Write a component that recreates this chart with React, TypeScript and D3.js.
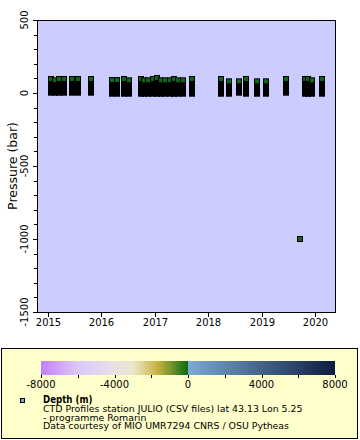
import * as d3 from "d3";

// CTD casts at station JULIO: date, top of profile (max pressure) and surface end
const castDates = [
  "2015-01-23", "2015-02-21", "2015-03-21", "2015-04-20", "2015-06-14", "2015-07-25",
  "2015-10-22", "2016-03-17", "2016-04-18", "2016-06-07", "2016-07-09", "2016-09-27",
  "2016-10-22", "2016-11-18", "2016-12-18", "2017-01-19", "2017-02-15", "2017-03-15",
  "2017-04-14", "2017-05-15", "2017-06-11", "2017-07-11", "2017-09-13", "2018-03-29",
  "2018-05-23", "2018-07-30", "2018-09-14", "2018-11-30", "2019-01-31", "2019-06-16",
  "2019-09-18", "2019-10-24", "2019-11-17", "2019-12-11", "2020-02-15",
];
const castMaxP = [
  96, 87, 96, 96, 96, 96,
  96, 89, 89, 96, 87, 96,
  87, 87, 96, 103, 87, 87,
  87, 96, 87, 87, 96, 96,
  80, 80, 96, 80, 80, 96,
  -1000, 96, 96, 87, 96,
];
const castMinP = [
  2, 2, 2, 2, 2, 2,
  2, -5, -5, -5, -5, -5,
  -5, -5, -5, -5, -5, -5,
  -5, -5, -5, -5, -5, -5,
  -5, 2, -5, -5, -5, 2,
  -1000, -5, -5, -5, -5,
];

const yearTicks = ["2015", "2016", "2017", "2018", "2019", "2020"];
const depthStops = [-8000, -6000, -4000, -3000, -1700, -700, 0];
const depthColors = ["#c080ff", "#dcc8ff", "#e8e0e4", "#ebe8cc", "#c9b444", "#5c8a28", "#0a6a12"];
const seaStops = [0, 8000];
const seaColors = ["#7aaad4", "#0e1c3e"];
const legendLines = [
  "CTD Profiles station JULIO (CSV files) lat 43.13 Lon 5.25",
  "- programme Romarin",
  "Data courtesy of MIO UMR7294 CNRS / OSU Pytheas",
];

const W = 360;
const H = 440;
const PLOT = { left: 37, right: 335, top: 20, bottom: 312 };
const FONT = "'DejaVu Sans', sans-serif";
const COND = "'DejaVu Sans Condensed', 'DejaVu Sans', sans-serif";
const MARK = 3;
const MARK_FILL = "#0f6418";

export default function App() {
  const parse = d3.timeParse("%Y-%m-%d");
  const x = d3
    .scaleTime()
    .domain([new Date(2014, 9, 20), new Date(2020, 4, 17)])
    .range([PLOT.left, PLOT.right]);
  const y = d3.scaleLinear().domain([-1500, 500]).range([PLOT.bottom, PLOT.top]);

  const yMajor = y.ticks(5);
  const yMinor = y.ticks(20).filter((t) => !yMajor.includes(t));

  const land = d3.scaleLinear<string>().domain(depthStops).range(depthColors).clamp(true);
  const sea = d3.scaleLinear<string>().domain(seaStops).range(seaColors).clamp(true);
  const cb = d3.scaleLinear().domain([-8000, 8000]).range([41, 335]);
  const cbPixels = d3.range(Math.round(cb.range()[0]), Math.round(cb.range()[1]));
  const CB_TOP = 361;
  const CB_H = 14;

  return (
    <div style={{ position: "absolute", left: 0, top: 0 }}>
      <svg width={W} height={H} style={{ display: "block", background: "#fff" }}>
        <rect x={PLOT.left} y={PLOT.top} width={PLOT.right - PLOT.left} height={PLOT.bottom - PLOT.top} fill="#ccccff" />

        {castDates.map((d, i) => {
          const cx = Math.round(x(parse(d)!));
          const top = y(castMaxP[i]);
          const bot = y(castMinP[i]);
          return (
            <g key={d}>
              <rect x={cx - MARK} y={top - MARK} width={MARK * 2} height={bot - top + MARK * 2} fill="#000" />
              <rect x={cx - MARK + 1} y={top - MARK + 1} width={MARK * 2 - 2} height={MARK * 2 - 2} fill={MARK_FILL} />
            </g>
          );
        })}

        <rect
          x={PLOT.left + 0.5}
          y={PLOT.top + 0.5}
          width={PLOT.right - PLOT.left}
          height={PLOT.bottom - PLOT.top}
          fill="none"
          stroke="#000"
          strokeWidth={1}
        />

        {/* y axis */}
        {yMajor.map((t) => (
          <g key={t}>
            <line x1={PLOT.left - 4} x2={PLOT.left} y1={Math.round(y(t)) + 0.5} y2={Math.round(y(t)) + 0.5} stroke="#000" />
            <text
              transform={`translate(${PLOT.left - 9},${y(t)}) rotate(-90)`}
              textAnchor="middle"
              fontFamily={FONT}
              fontSize={10}
              fill="#000"
            >
              {t}
            </text>
          </g>
        ))}
        {yMinor.map((t) => (
          <line key={t} x1={PLOT.left - 3} x2={PLOT.left} y1={Math.round(y(t)) + 0.5} y2={Math.round(y(t)) + 0.5} stroke="#000" />
        ))}
        <text
          transform={`translate(17,${(PLOT.top + PLOT.bottom) / 2}) rotate(-90)`}
          textAnchor="middle"
          fontFamily={FONT}
          fontSize={12.5}
          fill="#000"
        >
          Pressure (bar)
        </text>

        {/* x axis */}
        {yearTicks.map((t) => {
          const px = Math.round(x(parse(`${t}-01-01`)!)) + 0.5;
          return (
            <g key={t}>
              <line x1={px} x2={px} y1={PLOT.bottom} y2={PLOT.bottom + 5} stroke="#000" />
              <text x={px} y={PLOT.bottom + 14} textAnchor="middle" fontFamily={FONT} fontSize={10} fill="#000">
                {t}
              </text>
            </g>
          );
        })}

        {/* legend */}
        <rect x={1.5} y={348.5} width={356} height={90} fill="#ffffcc" stroke="#000" />
        {cbPixels.map((px) => {
          const v = cb.invert(px + 0.5);
          return <rect key={px} x={px} y={CB_TOP} width={1} height={CB_H} fill={v < 0 ? land(v) : sea(v)} />;
        })}
        {d3.range(-8000, 8001, 2000).map((t) => (
          <line
            key={t}
            x1={Math.round(cb(t)) + 0.5}
            x2={Math.round(cb(t)) + 0.5}
            y1={CB_TOP + CB_H}
            y2={CB_TOP + CB_H + 3}
            stroke="#000"
          />
        ))}
        {d3.range(-8000, 8001, 4000).map((t) => (
          <text key={t} x={cb(t)} y={388} textAnchor="middle" fontFamily={FONT} fontSize={10} fill="#000">
            {t}
          </text>
        ))}
        <rect x={20.5} y={398.5} width={4} height={4} fill={sea(0)} stroke="#000" />
        <text x={43} y={402.5} fontFamily={COND} fontSize={9.6} fontWeight="bold" fill="#000">
          Depth (m)
        </text>
        {legendLines.map((l, i) => (
          <text key={i} x={43} y={412 + i * 8.6} fontFamily={FONT} fontSize={9.4} fill="#000">
            {l}
          </text>
        ))}
      </svg>
    </div>
  );
}
